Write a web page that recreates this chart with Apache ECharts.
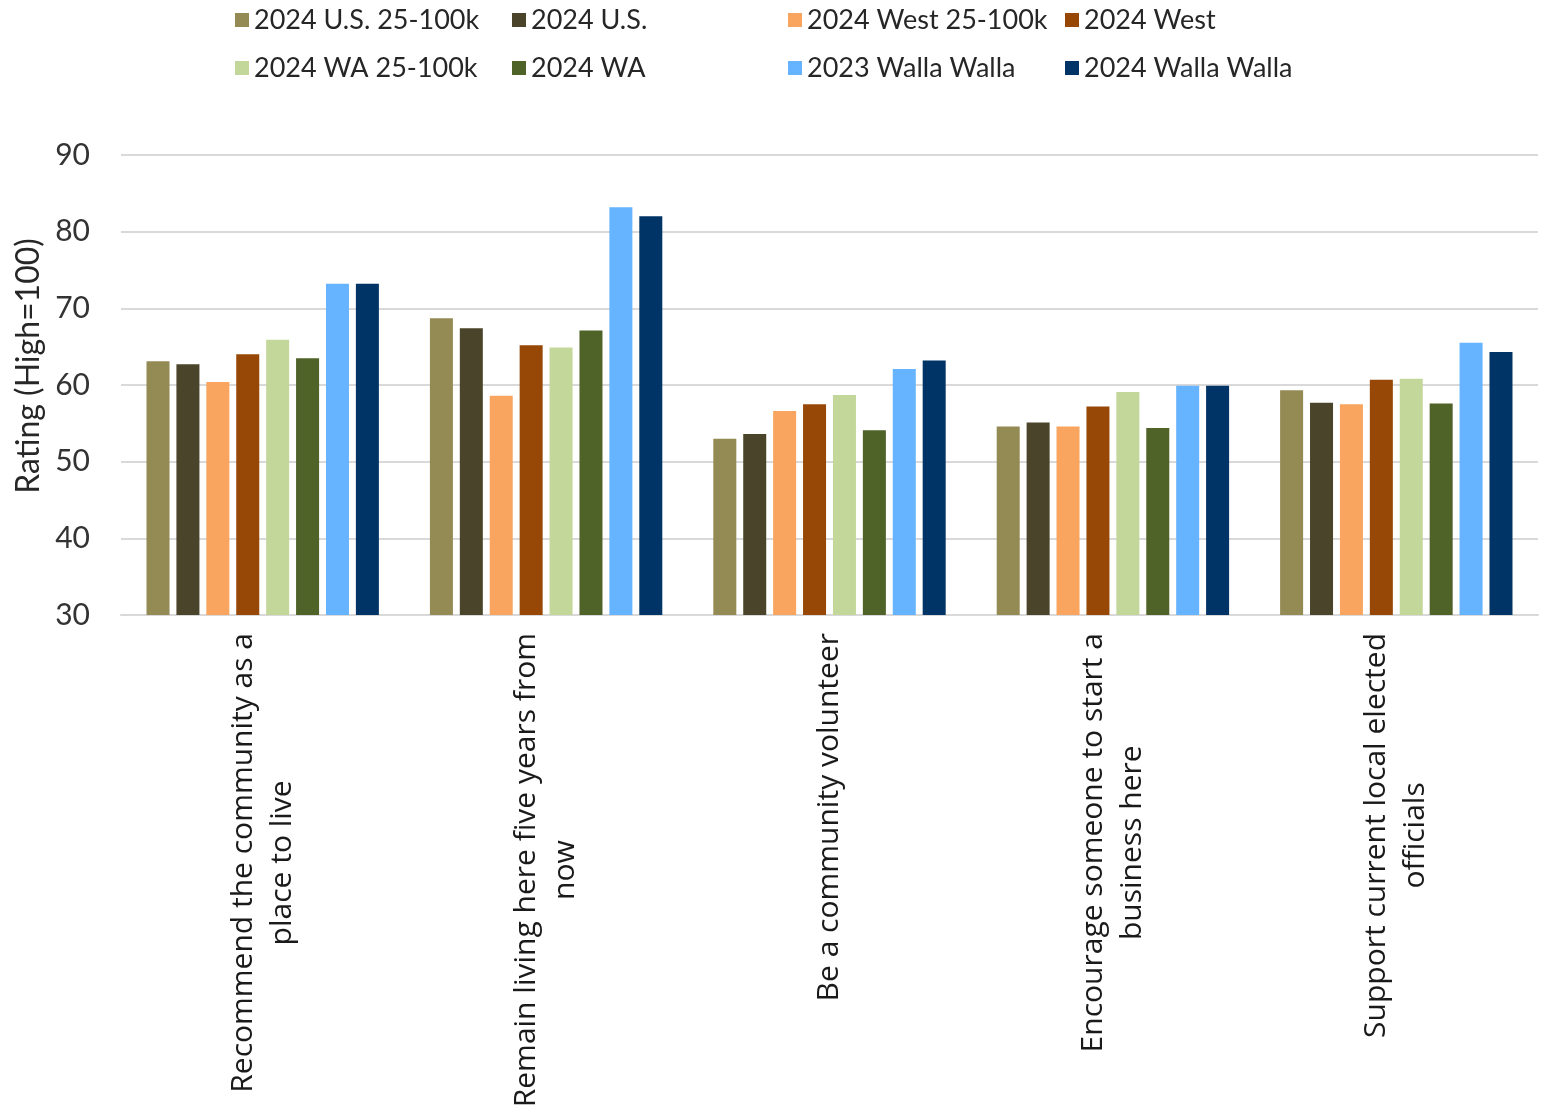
<!DOCTYPE html>
<html>
<head>
<meta charset="utf-8">
<script src="https://cdn.jsdelivr.net/npm/echarts@6/dist/echarts.min.js"></script>
<style>
html,body{margin:0;padding:0;background:#fff;}
#chart{width:1544px;height:1115px;}
</style>
</head>
<body>
<div id="chart"></div>
<script>
const categories = [
  "Recommend the community as a\nplace to live",
  "Remain living here five years from\nnow",
  "Be a community volunteer",
  "Encourage someone to start a\nbusiness here",
  "Support current local elected\nofficials"
];
const seriesNames = [
  "2024 U.S. 25-100k", "2024 U.S.", "2024 West 25-100k", "2024 West",
  "2024 WA 25-100k", "2024 WA", "2023 Walla Walla", "2024 Walla Walla"
];
const us25 = [63.1, 68.7, 53.0, 54.6, 59.3];
const us = [62.7, 67.4, 53.6, 55.1, 57.7];
const west25 = [60.4, 58.6, 56.6, 54.6, 57.5];
const west = [64.0, 65.2, 57.5, 57.2, 60.7];
const wa25 = [65.9, 64.9, 58.7, 59.1, 60.8];
const wa = [63.5, 67.1, 54.1, 54.4, 57.6];
const ww23 = [73.2, 83.2, 62.1, 59.9, 65.5];
const ww24 = [73.2, 82.0, 63.2, 59.9, 64.3];
const yTicks = [30, 40, 50, 60, 70, 80, 90];

const values = [us25, us, west25, west, wa25, wa, ww23, ww24];
const colors = ["#948A54", "#4A452A", "#F9A55F", "#974806", "#C4D79B", "#4F6228", "#66B3FF", "#003366"];

const chart = echarts.init(document.getElementById('chart'));
const legendCols = [230, 507, 783, 1060];
const legendData = [[0, 4], [1, 5], [2, 6], [3, 7]];

const option = {
  animation: false,
  backgroundColor: '#fff',
  color: colors,
  legend: legendCols.map((x, i) => ({
    orient: 'vertical',
    left: x,
    top: 0,
    itemWidth: 14,
    itemHeight: 14,
    itemGap: 18,
    icon: 'rect',
    data: legendData[i].map(k => seriesNames[k]),
    textStyle: { fontFamily: 'Lato', fontSize: 27, color: '#262626', lineHeight: 30, padding: [0, 0, 0, 0] }
  })),
  grid: { left: 121, right: 6, top: 155, bottom: 500, containLabel: false },
  xAxis: {
    type: 'category',
    data: categories,
    axisLine: { lineStyle: { color: '#d9d9d9', width: 2 } },
    axisTick: { show: false },
    axisLabel: {
      interval: 0,
      rotate: 90,
      margin: 18,
      fontFamily: 'Open Sans',
      fontSize: 30,
      formatter: v => v.split('\n').map(l => '{c|' + l + '}').join('\n'),
      rich: {
        c: { align: 'center', fontFamily: 'Open Sans', fontSize: 30, lineHeight: 39, color: '#1a1a1a' }
      }
    }
  },
  yAxis: {
    type: 'value',
    min: yTicks[0],
    max: yTicks[yTicks.length - 1],
    interval: 10,
    name: 'Rating (High=100)',
    nameLocation: 'middle',
    nameGap: 76,
    nameTextStyle: { fontFamily: 'Lato', fontSize: 32, color: '#262626', padding: [0, 0, 0, 38] },
    axisLine: { show: false },
    axisTick: { show: false },
    axisLabel: { fontFamily: 'Lato', fontSize: 30, color: '#333', margin: 31 },
    splitLine: { lineStyle: { color: '#d9d9d9', width: 2 } }
  },
  series: seriesNames.map((name, i) => ({
    name: name,
    type: 'bar',
    data: values[i],
    barGap: '30%',
    barCategoryGap: '18%',
    itemStyle: { color: colors[i] }
  }))
};
chart.setOption(option);
</script>
</body>
</html>
